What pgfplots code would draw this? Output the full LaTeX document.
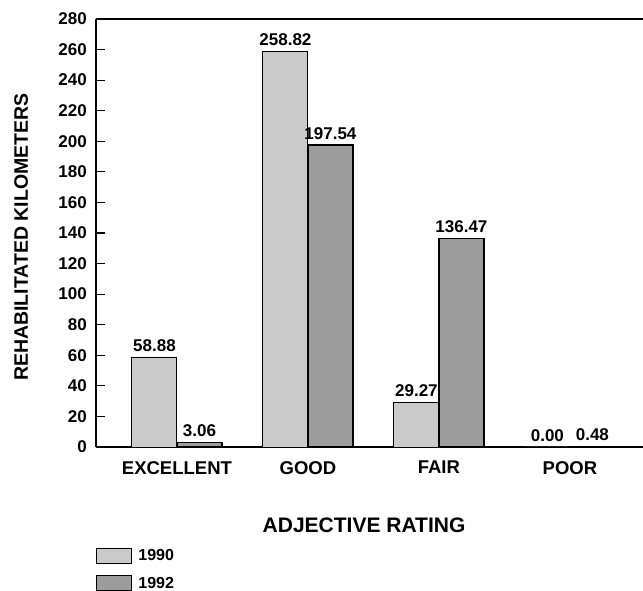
\documentclass[border=0pt]{standalone}
\usepackage{fontspec}
\setmainfont{Liberation Sans}
\usepackage{pgfplots}
\usepackage{pgfplotstable}
\pgfplotsset{compat=1.18}

\definecolor{bar1990}{RGB}{202,202,202}
\definecolor{bar1992}{RGB}{156,156,156}

% Rehabilitated kilometers by adjective rating
\pgfplotstableread{
x  y1990   y1992
0  58.88   3.06
1  258.82  197.54
2  29.27   136.47
3  0.00    0.48
}\ratings

\begin{document}
\begin{tikzpicture}
\begin{axis}[
  scale only axis,
  width=547pt, height=428pt,
  xmin=-0.618, xmax=3.558,
  ymin=0, ymax=280,
  axis x line*=bottom, axis y line*=left,
  axis line style={line width=1.4pt},
  ybar=0pt, bar width=45pt,
  xtick=data,
  xticklabels={EXCELLENT,GOOD,FAIR,POOR},
  x tick style={draw=none},
  ytick={0,20,...,280},
  tick align=inside,
  major tick length=9pt,
  y tick style={line width=1.2pt, black},
  /pgf/number format/assume math mode=true,
  yticklabel style={font=\bfseries\fontsize{17}{17}\selectfont, inner sep=0pt, anchor=east, xshift=-9pt},
  xticklabel style={font=\bfseries\fontsize{18.5}{18.5}\selectfont, inner sep=0pt, anchor=north, yshift=-14pt},
  xlabel={ADJECTIVE RATING},
  xlabel style={font=\bfseries\fontsize{21}{21}\selectfont, inner sep=0pt, anchor=north,
    at={(axis description cs:0.49,0)}, yshift=-71pt},
  ylabel={REHABILITATED KILOMETERS},
  ylabel style={font=\bfseries\fontsize{19.5}{19.5}\selectfont, inner sep=0pt, anchor=center,
    at={(axis description cs:-0.137,0.49)}},
  nodes near coords,
  nodes near coords style={font=\bfseries\fontsize{17}{17}\selectfont, inner sep=0pt,
    anchor=south, yshift=5pt,
    /pgf/number format/.cd, fixed, fixed zerofill, precision=2},
  legend cell align=left,
  legend style={at={(axis description cs:0,-0.236)}, anchor=north west,
    draw=none, fill=none, inner sep=0pt,
    font=\bfseries\fontsize{16}{16}\selectfont,
    row sep=11pt, column sep=6pt,
    nodes={inner sep=0pt, anchor=west}},
  legend image code/.code={\draw[#1] (0pt,-7.5pt) rectangle (35pt,7.5pt);},
  clip=false,
]
\addplot[fill=bar1990, draw=black, line width=0.9pt] table[x=x, y=y1990]{\ratings};
\addplot[fill=bar1992, draw=black, line width=1.2pt] table[x=x, y=y1992]{\ratings};
\legend{1990,1992}
\draw[line width=1.4pt] (rel axis cs:0,1) -- (rel axis cs:1,1);
\coordinate (O) at (rel axis cs:0,0);
\end{axis}
\pgfresetboundingbox
\path ([shift={(-96pt,-144pt)}]O) rectangle ([shift={(547pt,447pt)}]O);
\end{tikzpicture}
\end{document}
